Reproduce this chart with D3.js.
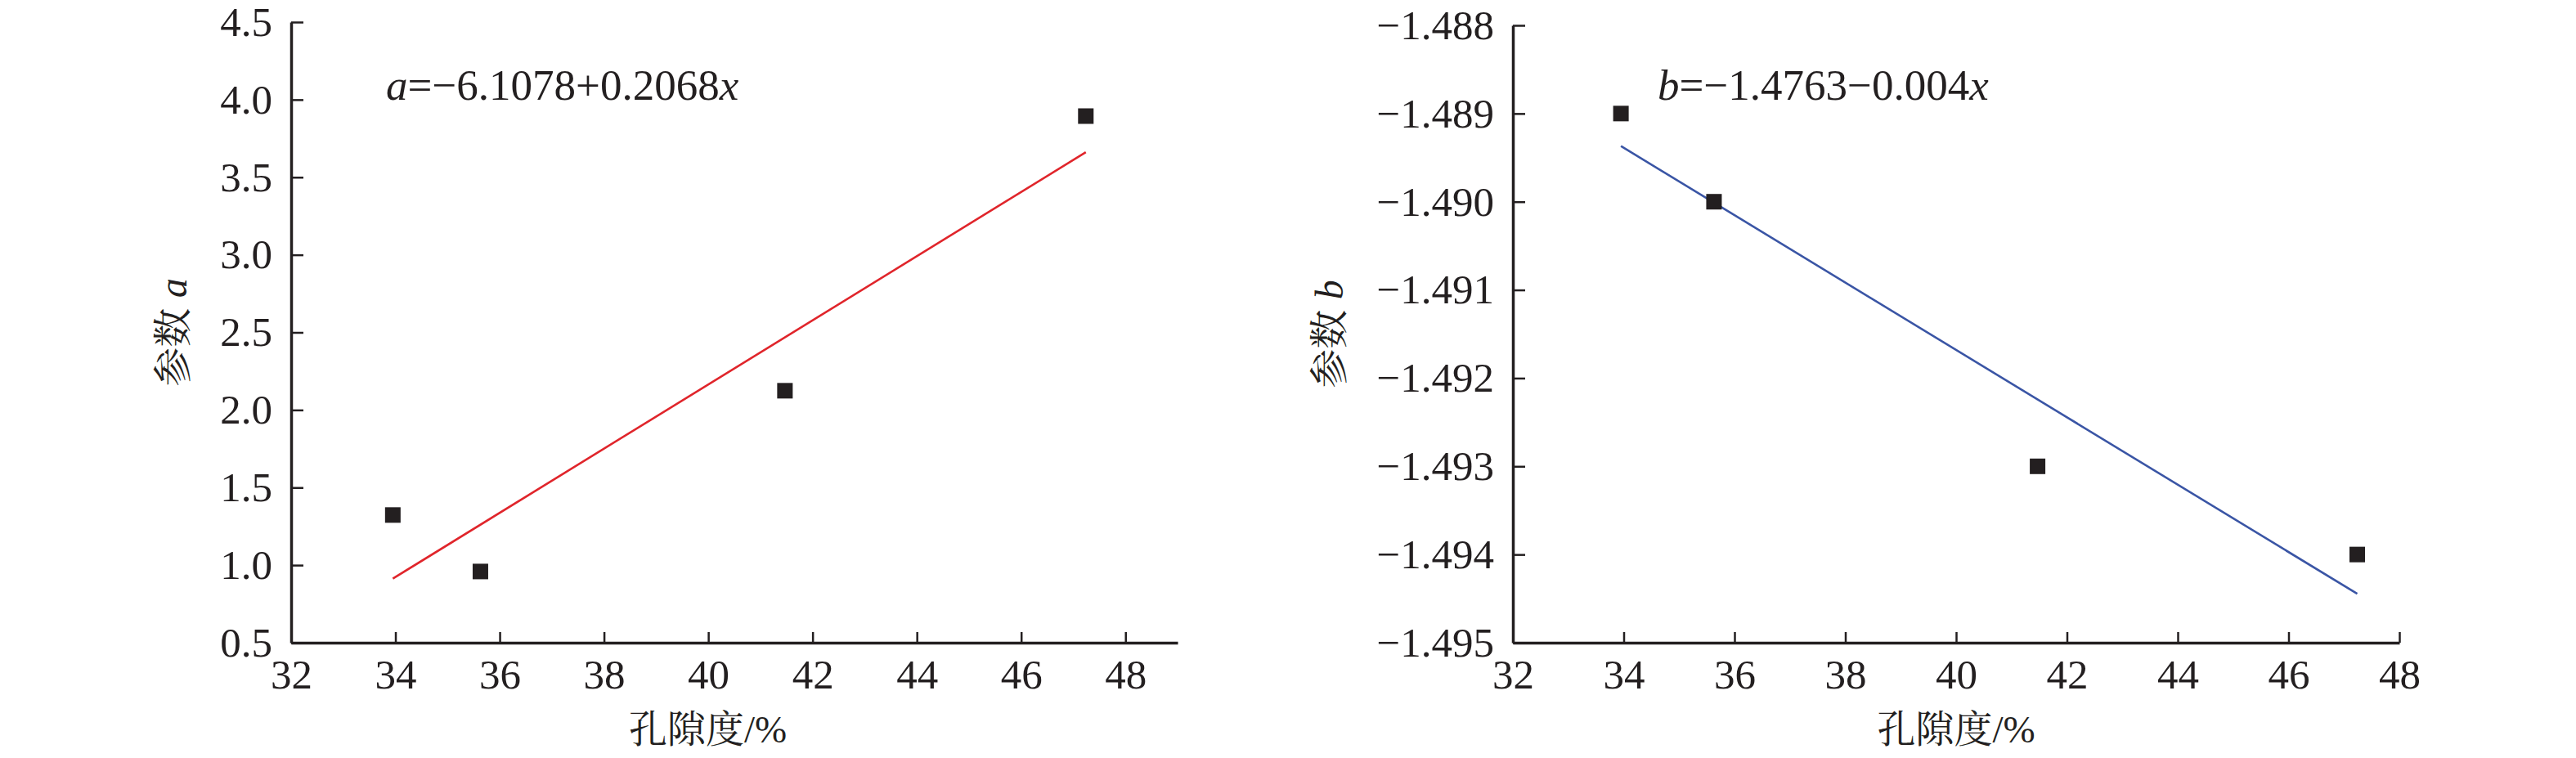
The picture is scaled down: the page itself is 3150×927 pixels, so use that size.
<!DOCTYPE html>
<html>
<head>
<meta charset="utf-8">
<script src="https://cdn.jsdelivr.net/npm/d3@7"></script>
<style>
  body { margin: 0; background: #fff; }
</style>
</head>
<body>
<div id="chart"></div>
<script>
// porosity (%) of the four samples
const porosity = [33.95, 35.63, 41.47, 47.24];
// fitted parameters
const paramA = [1.323, 0.959, 2.124, 3.894];
const paramB = [-1.489, -1.490, -1.493, -1.494];

const xTicks = [32, 34, 36, 38, 40, 42, 44, 46, 48];
const aTicks = [0.5, 1.0, 1.5, 2.0, 2.5, 3.0, 3.5, 4.0, 4.5];
const bTicks = [-1.488, -1.489, -1.490, -1.491, -1.492, -1.493, -1.494, -1.495];

// linear fits: [intercept, slope]
const fitA = [-6.1078, 0.2068];
const fitB = [-1.4764, -0.000382];

const serif = "'Liberation Serif'";
const cjk = "'Noto Serif CJK SC'";
const ink = '#231f20';

const svg = d3.select('#chart').append('svg')
  .attr('width', 3150)
  .attr('height', 927);

function drawPanel(opts) {
  const x = d3.scaleLinear().domain(opts.xDomain).range(opts.xRange);
  const y = d3.scaleLinear().domain(opts.yDomain).range(opts.yRange);
  const g = svg.append('g');

  const xAxis = g.append('g')
    .attr('transform', `translate(0,${opts.yRange[0]})`)
    .call(d3.axisBottom(x).tickValues(xTicks).tickSize(-13).tickSizeOuter(0).tickPadding(20).tickFormat(d3.format('d')));

  const yAxis = g.append('g')
    .attr('transform', `translate(${opts.xRange[0]},0)`)
    .call(d3.axisLeft(y).tickValues(opts.yTicks).tickSize(-15).tickSizeOuter(0).tickPadding(23).tickFormat(opts.yFormat));

  [xAxis, yAxis].forEach((ax) => {
    ax.select('.domain').attr('stroke', ink).attr('stroke-width', 3.5);
    ax.selectAll('.tick line').attr('stroke', ink).attr('stroke-width', 2.5);
    ax.selectAll('.tick text')
      .style('font-family', serif)
      .style('font-size', '51px')
      .attr('fill', ink);
  });

  // fit line over the data range
  const ext = d3.extent(porosity);
  g.append('line')
    .attr('x1', x(ext[0]))
    .attr('y1', y(opts.fit[0] + opts.fit[1] * ext[0]))
    .attr('x2', x(ext[1]))
    .attr('y2', y(opts.fit[0] + opts.fit[1] * ext[1]))
    .attr('stroke', opts.lineColor)
    .attr('stroke-width', 2.6);

  const s = 19;
  g.selectAll('rect.pt')
    .data(opts.values)
    .enter()
    .append('rect')
    .attr('class', 'pt')
    .attr('x', (d, i) => x(porosity[i]) - s / 2)
    .attr('y', (d) => y(d) - s / 2)
    .attr('width', s)
    .attr('height', s)
    .attr('fill', ink);

  // equation
  const eq = g.append('text')
    .attr('x', opts.eqX)
    .attr('y', 122)
    .attr('fill', ink)
    .style('font-family', serif)
    .style('font-size', '53px');
  eq.append('tspan').style('font-family', serif).style('font-style', 'italic').text(opts.name);
  eq.append('tspan').style('font-family', serif).text(opts.eqText);
  eq.append('tspan').style('font-family', serif).style('font-style', 'italic').text('x');

  // x title
  const cx = (opts.xRange[0] + (opts.axisEnd || opts.xRange[1])) / 2;
  const xt = g.append('text')
    .attr('x', cx)
    .attr('y', 908)
    .attr('fill', ink)
    .attr('text-anchor', 'middle')
    .style('font-size', '47px');
  xt.append('tspan').style('font-family', cjk).text('孔隙度');
  xt.append('tspan').style('font-family', serif).text('/%');

  // y title
  const cy = (opts.yRange[0] + opts.yRange[1]) / 2;
  const yt = g.append('text')
    .attr('transform', `translate(${opts.yTitleX},${cy}) rotate(-90)`)
    .attr('fill', ink)
    .attr('text-anchor', 'middle')
    .style('font-size', '48px');
  yt.append('tspan').style('font-family', cjk).text('参数 ');
  yt.append('tspan').style('font-family', serif).style('font-style', 'italic').text(opts.name);
}

drawPanel({
  name: 'a',
  values: paramA,
  xDomain: [32, 49],
  xRange: [356, 1440],
  axisEnd: 1375,
  yDomain: [0.5, 4.5],
  yRange: [786, 27],
  yTicks: aTicks,
  yFormat: d3.format('.1f'),
  fit: fitA,
  lineColor: '#e0252b',
  eqX: 472,
  eqText: '=−6.1078+0.2068',
  yTitleX: 228
});

drawPanel({
  name: 'b',
  values: paramB,
  xDomain: [32, 48],
  xRange: [1850, 2934],
  yDomain: [-1.495, -1.488],
  yRange: [786, 31],
  yTicks: bTicks,
  yFormat: (d) => '−' + Math.abs(d).toFixed(3),
  fit: fitB,
  lineColor: '#3a55a5',
  eqX: 2027,
  eqText: '=−1.4763−0.004',
  yTitleX: 1642
});
</script>
</body>
</html>
